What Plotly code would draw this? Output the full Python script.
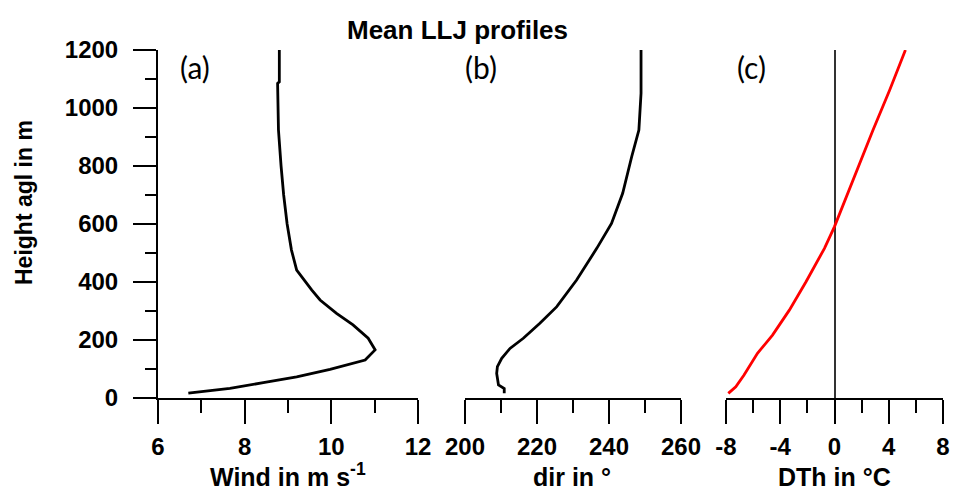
import plotly.graph_objects as go

# Mean low-level-jet profiles: wind speed, wind direction, potential temperature difference
wind_height = [17, 33, 53, 73, 99, 119, 131, 166, 206, 252, 292, 338, 372, 441, 510,
               600, 700, 800, 924, 1085, 1090, 1143, 1200]
wind_speed = [6.70, 7.66, 8.43, 9.20, 9.97, 10.51, 10.78, 11.01, 10.85, 10.50, 10.12,
              9.74, 9.55, 9.20, 9.08, 8.98, 8.90, 8.84, 8.78, 8.76, 8.80, 8.80, 8.80]

dir_height = [16, 33, 45, 85, 108, 137, 171, 206, 258, 315, 407, 516, 602, 706, 832,
              924, 1051, 1062, 1200]
wind_dir = [210.9, 210.9, 209.3, 208.8, 209.0, 210.2, 212.5, 216.2, 220.8, 225.5,
            231.0, 236.6, 240.7, 243.8, 246.3, 248.3, 248.9, 248.9, 248.9]

dth_height = [16, 39, 79, 154, 217, 303, 401, 516, 591, 752, 924, 1062, 1200]
dth = [-7.83, -7.28, -6.67, -5.68, -4.57, -3.33, -2.10, -0.74, 0.0, 1.36, 2.84, 4.07, 5.23]

height_ticks = [0, 200, 400, 600, 800, 1000, 1200]
wind_ticks = [6, 8, 10, 12]
dir_ticks = [200, 220, 240, 260]
dth_ticks = [-8, -4, 0, 4, 8]
dth_ticktext = ["-8", "-4", "0", "4", "8"]
panel_labels = ["(a)", "(b)", "(c)"]
x_titles = ["Wind in m s<sup>-1</sup>", "dir in °", "DTh in °C"]

W, H = 955, 494
FONT = "Liberation Sans"


def px(x):
    return x / W


def py(y):
    return (H - y) / H


fig = go.Figure()
fig.add_trace(go.Scatter(x=wind_speed, y=wind_height, mode="lines",
                         line=dict(color="black", width=2.8), xaxis="x", yaxis="y"))
fig.add_trace(go.Scatter(x=wind_dir, y=dir_height, mode="lines",
                         line=dict(color="black", width=2.8), xaxis="x2", yaxis="y"))
fig.add_trace(go.Scatter(x=dth, y=dth_height, mode="lines",
                         line=dict(color="#ff0000", width=2.8), xaxis="x3", yaxis="y"))

tickfont = dict(family=FONT, size=24, color="black", weight="bold")


def xaxis(domain, rng, tickvals, minor_dtick, ticktext=None, zeroline=False):
    return dict(domain=domain, range=rng, tickvals=tickvals,
                ticktext=ticktext if ticktext else [str(v) for v in tickvals],
                showline=True, linecolor="black", linewidth=2,
                ticks="outside", ticklen=24, tickwidth=2, tickcolor="black",
                minor=dict(ticks="outside", ticklen=13, tickwidth=2, tickcolor="black",
                           dtick=minor_dtick, tick0=rng[0]),
                showgrid=False, zeroline=zeroline, zerolinecolor="#333333",
                zerolinewidth=1.5, tickfont=tickfont, automargin=False,
                ticklabelstandoff=2, anchor="y", fixedrange=True)


fig.update_layout(
    template="none",
    width=W, height=H,
    margin=dict(l=0, r=0, t=0, b=0, autoexpand=False),
    paper_bgcolor="white", plot_bgcolor="white",
    showlegend=False,
    xaxis=xaxis([px(158), px(418)], [6, 12], wind_ticks, 1),
    xaxis2=xaxis([px(465), px(681)], [200, 260], dir_ticks, 10),
    xaxis3=xaxis([px(726), px(943)], [-8, 8], dth_ticks, 2, dth_ticktext, zeroline=True),
    yaxis=dict(domain=[py(398), py(50)], range=[0, 1200], tickvals=height_ticks,
               showline=True, linecolor="black", linewidth=2,
               ticks="outside", ticklen=23, tickwidth=2, tickcolor="black",
               minor=dict(ticks="outside", ticklen=11, tickwidth=2, tickcolor="black",
                          dtick=100, tick0=0),
               showgrid=False, zeroline=False, tickfont=tickfont, automargin=False,
               ticklabelstandoff=10, anchor="x", fixedrange=True),
)

fig.add_annotation(text="Mean LLJ profiles", x=px(457), y=py(30), xref="paper", yref="paper",
                   showarrow=False, xanchor="center", yanchor="middle",
                   font=dict(family=FONT, size=26, color="black", weight="bold"))
fig.add_annotation(text="Height agl in m", x=px(24), y=py(203), xref="paper", yref="paper",
                   showarrow=False, textangle=-90, xanchor="center", yanchor="middle",
                   font=dict(family=FONT, size=23, color="black", weight="bold"))
for cx, t in zip([288, 572, 834], x_titles):
    fig.add_annotation(text=t, x=px(cx), y=py(493), xref="paper", yref="paper",
                       showarrow=False, xanchor="center", yanchor="bottom",
                       font=dict(family=FONT, size=25, color="black", weight="bold"))
for lx, t in zip([178, 463, 735], panel_labels):
    fig.add_annotation(text=t, x=px(lx), y=py(67), xref="paper", yref="paper",
                       showarrow=False, xanchor="left", yanchor="middle",
                       font=dict(family="Lato", size=30, color="black"))

fig.write_html("out.html")
